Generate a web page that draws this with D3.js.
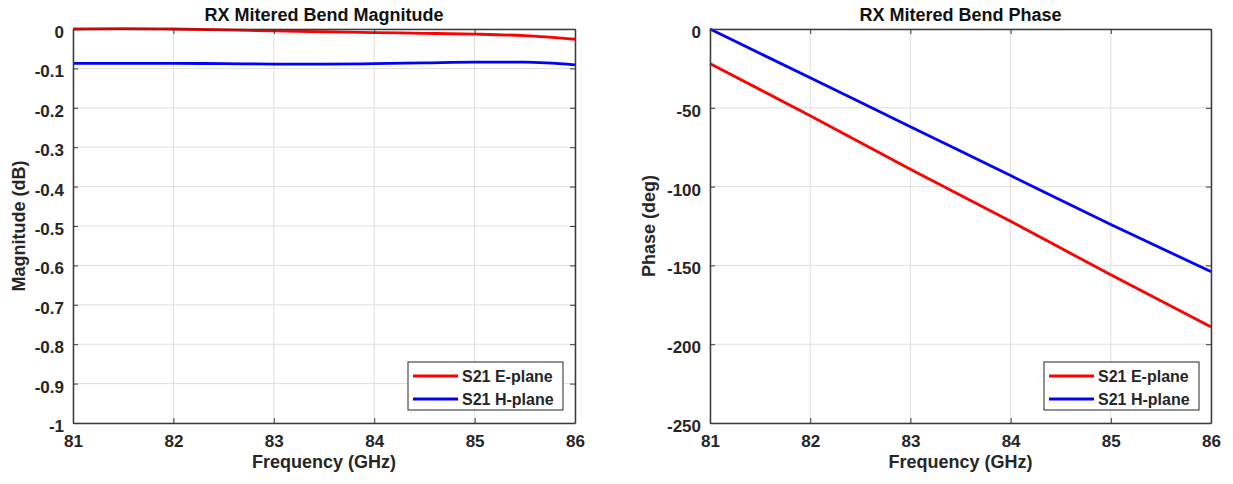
<!DOCTYPE html>
<html>
<head>
<meta charset="utf-8">
<script src="https://cdn.jsdelivr.net/npm/d3@7"></script>
<style>
  body { margin: 0; background: #fff; }
  svg text { font-family: "Liberation Sans", Arial, sans-serif; font-weight: bold; fill: #262626; }
</style>
</head>
<body>
<svg id="chart" width="1233" height="484"></svg>
<script>
// frequency points (GHz)
var freq = [81, 81.5, 82, 82.5, 83, 83.5, 84, 84.5, 85, 85.5, 86];

// magnitude (dB)
var magE = [0, 0.001, 0, -0.002, -0.005, -0.007, -0.009, -0.011, -0.013, -0.017, -0.026];
var magH = [-0.087, -0.087, -0.087, -0.088, -0.089, -0.089, -0.088, -0.086, -0.084, -0.084, -0.091];

// phase (deg)
var phaseFreq = [81, 82, 83, 84, 85, 86];
var phaseE = [-22, -55, -89, -122, -156, -189];
var phaseH = [0, -31, -62, -93, -124, -154];

var xTicks = [81, 82, 83, 84, 85, 86];
var magTicks = [0, -0.1, -0.2, -0.3, -0.4, -0.5, -0.6, -0.7, -0.8, -0.9, -1];
var magTickLabels = ['0', '-0.1', '-0.2', '-0.3', '-0.4', '-0.5', '-0.6', '-0.7', '-0.8', '-0.9', '-1'];
var phaseTicks = [0, -50, -100, -150, -200, -250];
var phaseTickLabels = ['0', '-50', '-100', '-150', '-200', '-250'];

var seriesNames = ['S21 E-plane', 'S21 H-plane'];
var seriesColors = ['#ff0000', '#0000ff'];

var svg = d3.select('#chart');

function drawPanel(opt) {
    var g = svg.append('g').attr('transform', `translate(${opt.left},${opt.top})`);
    var w = opt.width, h = opt.height;

    var x = d3.scaleLinear().domain([81, 86]).range([0, w]);
    var y = d3.scaleLinear().domain(opt.yDomain).range([h, 0]);

    // grid
    g.selectAll('.vgrid')
        .data(xTicks)
        .join('line')
        .attr('x1', d => x(d)).attr('x2', d => x(d))
        .attr('y1', 0).attr('y2', h)
        .attr('stroke', '#dedede').attr('stroke-width', 1);
    g.selectAll('.hgrid')
        .data(opt.yTicks)
        .join('line')
        .attr('x1', 0).attr('x2', w)
        .attr('y1', d => y(d)).attr('y2', d => y(d))
        .attr('stroke', '#dedede').attr('stroke-width', 1);

    // lines
    var line = d3.line().x(d => x(d[0])).y(d => y(d[1])).curve(d3.curveMonotoneX);
    opt.series.forEach((s, i) => {
        g.append('path')
            .datum(opt.xs.map((f, j) => [f, s[j]]))
            .attr('fill', 'none')
            .attr('stroke', seriesColors[i])
            .attr('stroke-width', 2.8)
            .attr('d', line);
    });

    // axes (inward ticks, box on)
    var tickLen = 5;
    var xb = d3.axisBottom(x).tickValues(xTicks).tickSizeInner(-tickLen).tickSizeOuter(0).tickPadding(10).tickFormat(d3.format('d'));
    var xt = d3.axisTop(x).tickValues(xTicks).tickSizeInner(-tickLen).tickSizeOuter(0).tickFormat('');
    var yl = d3.axisLeft(y).tickValues(opt.yTicks).tickSizeInner(-tickLen).tickSizeOuter(0).tickPadding(9)
        .tickFormat((d, i) => opt.labels[i]);
    var yr = d3.axisRight(y).tickValues(opt.yTicks).tickSizeInner(-tickLen).tickSizeOuter(0).tickFormat('');

    var axB = g.append('g').attr('transform', `translate(0,${h})`).call(xb);
    var axL = g.append('g').call(yl);
    [axB, g.append('g').call(xt), axL, g.append('g').attr('transform', `translate(${w},0)`).call(yr)].forEach(a => {
        a.select('.domain').attr('stroke', '#3a3a3a').attr('stroke-width', 1.5);
        a.selectAll('.tick line').attr('stroke', '#3a3a3a');
        a.selectAll('.tick text').style('font-size', '17px').style('font-family', '"Liberation Sans", Arial, sans-serif').style('font-weight', 'bold').attr('fill', '#262626');
    });
    axB.selectAll('.tick text').attr('dy', null).attr('y', 24);
    axL.selectAll('.tick text').attr('dy', null).attr('y', 8.5);

    // title and labels
    g.append('text')
        .attr('x', w / 2).attr('y', -8)
        .attr('text-anchor', 'middle')
        .style('font-size', '18px')
        .style('fill', '#111')
        .text(opt.title);
    g.append('text')
        .attr('x', w / 2).attr('y', h + 45)
        .attr('text-anchor', 'middle')
        .style('font-size', '18px')
        .text('Frequency (GHz)');
    g.append('text')
        .attr('transform', `translate(${opt.ylabelX},${h / 2}) rotate(-90)`)
        .attr('text-anchor', 'middle')
        .style('font-size', '18px')
        .text(opt.ylabel);

    // legend
    var lg = g.append('g').attr('transform', `translate(${w - 167},${h - 61})`);
    lg.append('rect')
        .attr('width', 155).attr('height', 48)
        .attr('fill', '#fff').attr('stroke', '#262626').attr('stroke-width', 1);
    seriesNames.forEach((n, i) => {
        var yy = 14 + i * 23;
        lg.append('line')
            .attr('x1', 5).attr('x2', 50)
            .attr('y1', yy).attr('y2', yy)
            .attr('stroke', seriesColors[i]).attr('stroke-width', 2.8);
        lg.append('text')
            .attr('x', 54).attr('y', yy + 6)
            .style('font-size', '16px')
            .text(n);
    });
}

drawPanel({
    left: 73, top: 29, width: 502, height: 394,
    yDomain: [-1, 0], yTicks: magTicks, labels: magTickLabels,
    xs: freq, series: [magE, magH],
    title: 'RX Mitered Bend Magnitude',
    ylabel: 'Magnitude (dB)', ylabelX: -48
});

drawPanel({
    left: 710, top: 29, width: 501, height: 394,
    yDomain: [-250, 0], yTicks: phaseTicks, labels: phaseTickLabels,
    xs: phaseFreq, series: [phaseE, phaseH],
    title: 'RX Mitered Bend Phase',
    ylabel: 'Phase (deg)', ylabelX: -55
});
</script>
</body>
</html>
